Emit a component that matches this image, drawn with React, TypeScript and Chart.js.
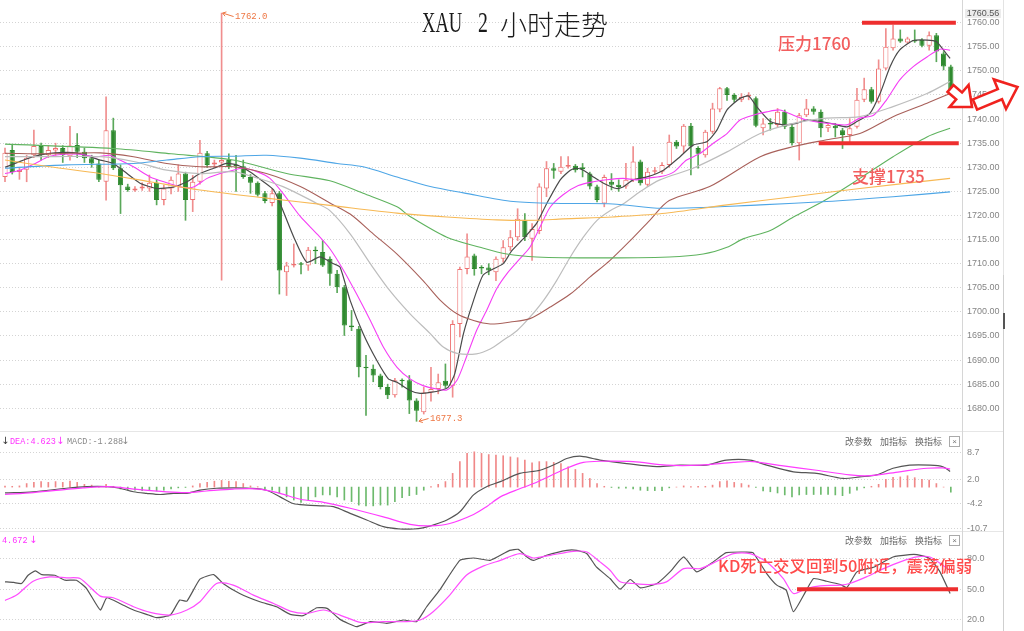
import React, { useEffect, useRef } from 'react';
import { Chart, registerables } from 'chart.js';

Chart.register(...registerables);

// ---------------- data ----------------
const opens = [
  1728, 1733.6, 1729, 1729.5, 1732.5, 1734.4, 1732.5, 1733.5, 1734, 1732.3,
  1734.6, 1733.2, 1731.9, 1730.8, 1727, 1737.7, 1729.8, 1726, 1725.2, 1725.6,
  1725.6, 1726.8, 1723.2, 1725.6, 1726, 1728.7, 1723.2, 1727, 1732.9, 1730.6,
  1731, 1731.5, 1730.5, 1730.2, 1728, 1726.8, 1724.6, 1722.6, 1724.6, 1708.2,
  1709.6, 1710, 1709.6, 1712.9, 1712.4, 1711, 1707.9, 1705.1, 1697.2, 1696.5,
  1688.6, 1688.2, 1686.8, 1684.4, 1682.7, 1685.8, 1685.8, 1681.6, 1679.2, 1683.3,
  1684, 1685.7, 1684.7, 1697.5, 1708.9, 1711.7, 1709.2, 1709.2, 1708.2, 1711,
  1713.4, 1715.5, 1719.1, 1715.2, 1716.8, 1725.6, 1729.8, 1729.1, 1730.1, 1730.3,
  1730, 1728.7, 1726, 1722.5, 1727, 1726.4, 1726, 1727.4, 1731.2, 1726.4,
  1729.1, 1729.1, 1730.5, 1735.3, 1734.3, 1738.6, 1734, 1732.5, 1737.4, 1742,
  1746.4, 1745, 1744, 1744.7, 1744.3, 1738.1, 1739.1, 1738.8, 1741.5, 1738.4,
  1735, 1740.8, 1742.2, 1741.5, 1738.1, 1738.6, 1737.7, 1736.7, 1738.4, 1744,
  1746.2, 1743.6, 1750.5, 1754.7, 1756.7, 1755.9, 1756.4, 1756.4, 1755.2, 1757.4,
  1753.6, 1750.9,
];
const closes = [
  1733, 1729, 1729.5, 1732, 1734.4, 1732.5, 1733.6, 1734, 1732.5, 1734.5,
  1733.2, 1731.9, 1730.8, 1727.4, 1737.7, 1729.8, 1726.3, 1725.3, 1725.6, 1726,
  1726.8, 1723.2, 1725.6, 1727.4, 1728.7, 1723.2, 1727, 1733, 1730.5, 1731,
  1731.5, 1730, 1730.2, 1728, 1726.8, 1724.3, 1723, 1724.6, 1708.6, 1709.6,
  1710, 1709.8, 1712.9, 1712.6, 1709.6, 1707.9, 1705.1, 1697.2, 1696.8, 1688.5,
  1688.3, 1686.8, 1684.4, 1682.7, 1685.8, 1685.6, 1681.6, 1679.5, 1683.3, 1684,
  1685.4, 1684.7, 1697.5, 1708.9, 1711.5, 1708.9, 1709, 1708.6, 1711, 1713.4,
  1715.5, 1719.3, 1715.5, 1717.2, 1726, 1729.8, 1729.3, 1730.1, 1730.5, 1729.4,
  1729.6, 1726, 1723.2, 1728, 1726.4, 1725.9, 1727.4, 1731.2, 1726.7, 1729.1,
  1729.4, 1730.5, 1735.3, 1734.3, 1738.6, 1734.3, 1732.8, 1737.4, 1742.2, 1746.4,
  1745, 1744, 1744.6, 1744.9, 1738.6, 1739.1, 1738.9, 1741.5, 1738.4, 1735,
  1740.8, 1742.2, 1741.5, 1738.1, 1738.8, 1738.1, 1736.7, 1738.1, 1744, 1746.2,
  1743.6, 1750.5, 1755, 1756.7, 1756.1, 1756.7, 1756.1, 1755.2, 1757.4, 1754,
  1750.9, 1746,
];
const highs = [
  1734, 1734.6, 1730, 1732.5, 1737.7, 1735, 1734.5, 1735, 1734.5, 1738.5,
  1737, 1734, 1732.5, 1731.5, 1744.6, 1740.2, 1730.5, 1726.5, 1726, 1726.8,
  1728.4, 1727.4, 1726.3, 1728, 1730.5, 1729, 1728.3, 1735.6, 1733.3, 1731.5,
  1762, 1732.8, 1732.5, 1731.5, 1728.5, 1727, 1725, 1725.5, 1725, 1710.3,
  1714.1, 1710.3, 1713.4, 1713.5, 1714.8, 1711.4, 1708.6, 1705.5, 1700.3, 1697,
  1691, 1689, 1687.1, 1685, 1686.2, 1686.1, 1686.8, 1682, 1684.4, 1688.5,
  1687.1, 1689.2, 1698.2, 1709.3, 1716.2, 1712, 1709.6, 1710, 1711.4, 1714.8,
  1716.9, 1721.4, 1720.4, 1718.3, 1726.6, 1731.2, 1730.8, 1732.2, 1732.2, 1730.6,
  1730.8, 1729, 1726.3, 1728.4, 1728.7, 1727.4, 1730.8, 1734.3, 1731.5, 1729.8,
  1730, 1731, 1736.7, 1735.6, 1738.9, 1739.1, 1734.3, 1737.7, 1743.3, 1746.6,
  1746.6, 1745.3, 1745.3, 1745.5, 1744.6, 1740.1, 1740.1, 1742.2, 1741.9, 1738.8,
  1741.2, 1744.1, 1742.6, 1741.9, 1739.1, 1739.1, 1738.1, 1740.1, 1746.4, 1748.5,
  1746.6, 1752.3, 1758.8, 1759.5, 1758.5, 1757, 1758.5, 1756.7, 1758.1, 1757.8,
  1754, 1751.2,
];
const lows = [
  1727, 1728.6, 1727.5, 1727, 1732, 1731.5, 1732, 1732.5, 1731, 1731.5,
  1732, 1731, 1730, 1727, 1723.2, 1729.5, 1720.4, 1725, 1725, 1725.2,
  1725, 1722.2, 1722.2, 1724.5, 1725, 1719, 1720.8, 1726.5, 1730, 1730,
  1706.6, 1729.7, 1725, 1727.7, 1724.6, 1724, 1722.6, 1722, 1703.7, 1703.4,
  1709.3, 1707.9, 1708.6, 1710, 1709.4, 1705.5, 1704, 1695.1, 1696.1, 1686.5,
  1678.5, 1685.5, 1684, 1682, 1682.3, 1684.4, 1678.9, 1677.3, 1678.8, 1681.5,
  1683, 1684.3, 1682.3, 1694.8, 1707.9, 1707.6, 1707.9, 1707.7, 1706.5, 1710.3,
  1712.7, 1714.8, 1714.8, 1710.7, 1716.2, 1723.9, 1727.7, 1728.7, 1729.8, 1729,
  1728, 1725.5, 1722.8, 1721.8, 1725.3, 1725, 1725.6, 1727, 1726.3, 1726,
  1728.7, 1728.7, 1730, 1733.9, 1733, 1728.4, 1729.8, 1732.1, 1737, 1741.5,
  1743.9, 1743.5, 1743.6, 1744, 1738.4, 1736.7, 1737.7, 1738.4, 1738, 1734.6,
  1731.5, 1740.5, 1741, 1736.3, 1737.4, 1736.3, 1733.9, 1735, 1738.1, 1743.6,
  1743.3, 1743.3, 1750.2, 1754.3, 1755.9, 1755.7, 1755.9, 1755, 1754.3, 1751.9,
  1750.2, 1745.3,
];

// moving-average lines, [candle position, price]
const maBlack = [
  [0, 1730], [3.9, 1732.2], [6.2, 1732.9], [9.9, 1733], [13.2, 1731.5], [15, 1730.8], [16.9, 1728.7],
  [18.7, 1726.7], [21, 1725.6], [23.3, 1725.9], [25.2, 1727], [27, 1728.7], [28.9, 1729.8], [30.7, 1730.8],
  [32.1, 1730.5], [33.9, 1729.1], [35.8, 1727], [37.2, 1725.3], [38.1, 1722.5], [40, 1715.5], [41.8, 1710.3],
  [43.6, 1711.4], [45.5, 1710], [46.4, 1709.3], [47.8, 1702.4], [49.6, 1695.5], [51.5, 1689.9], [53.1, 1686.1],
  [54.3, 1685.4], [56.1, 1683.7], [57.5, 1683.1], [58.9, 1683.3], [60.3, 1683.7], [61.4, 1684.4], [62.3, 1687.2],
  [63.5, 1695.5], [64.9, 1702.4], [66.2, 1707.6], [67.6, 1708.9], [69, 1710], [70.2, 1712.7], [71.8, 1715.2],
  [73.6, 1718.3], [75, 1722.4], [76.9, 1727.4], [78.3, 1729.4], [79.2, 1729.8], [80.1, 1729.4], [81.5, 1728],
  [82.9, 1726.7], [84.7, 1725.6], [85.6, 1725.9], [87, 1727.4], [88.9, 1728], [91.2, 1729.4], [93.5, 1732.2],
  [95.3, 1734.6], [97.2, 1735.3], [98.6, 1737.7], [100, 1741.9], [101.8, 1744.3], [103, 1744.8], [104.1, 1742.6],
  [106, 1739.5], [107.8, 1738.8], [109.6, 1739.1], [111, 1739.8], [112.9, 1739.5], [114.7, 1739], [116.6, 1738.4],
  [118, 1739.5], [119.8, 1741.2], [121.2, 1745.3], [122.6, 1750.9], [123.9, 1754.3], [125.8, 1756.3],
  [127.7, 1756.4], [129, 1756.1], [130, 1754.3], [130.9, 1752.6],
];
const maMagenta = [
  [0, 1728.7], [2.1, 1729.4], [4.2, 1730.8], [6, 1732.2], [8.1, 1732.7], [10.4, 1732.7], [12.7, 1732.2],
  [14.5, 1732.5], [15.9, 1731.5], [17.8, 1730.1], [20.1, 1728], [22.4, 1726.8], [24.7, 1725.8], [26.1, 1725.9],
  [28, 1727.7], [29.8, 1728.7], [31.6, 1729.4], [33, 1729.8], [34.9, 1729.1], [36.7, 1727.7], [38.5, 1724.6],
  [40.9, 1719.8], [43.2, 1716.2], [45, 1713.1], [46.9, 1708.6], [48.7, 1703.7], [50.6, 1698.2], [52.4, 1692.7],
  [54.3, 1688.5], [56.1, 1686.1], [57.9, 1684.7], [59.8, 1684], [61.2, 1683.8], [62.6, 1685.8], [63.9, 1690.6],
  [65.3, 1696.1], [66.7, 1700.3], [68.1, 1704.8], [69.5, 1707.9], [71.3, 1711], [72.7, 1713.4], [74.1, 1717.6],
  [75.5, 1721.7], [77.3, 1724.3], [79.4, 1726.2], [81.5, 1727], [83.3, 1727.4], [85.6, 1727.7], [87.5, 1727.4],
  [89.3, 1727.8], [91.2, 1728.2], [92.6, 1729], [94.4, 1731.5], [96.3, 1732.9], [98.1, 1735], [100, 1737],
  [101.8, 1739.8], [103.6, 1740.8], [105.5, 1741.5], [107.3, 1741.9], [109.2, 1740.8], [111, 1739.8],
  [112.9, 1739.3], [114.7, 1739], [116.6, 1738.8], [118.4, 1740.2], [120.3, 1740.8], [122.1, 1744],
  [123.9, 1748.1], [125.8, 1750.9], [127.7, 1752.9], [129.5, 1754.5], [130.9, 1754.3],
];
const maGray = [
  [0, 1732.2], [6.2, 1732.2], [13.2, 1732.2], [17.8, 1731.2], [22.4, 1729.4], [27, 1728.7], [31.6, 1729.1],
  [34.4, 1728], [38.5, 1726], [43.2, 1722.5], [45, 1721], [47.8, 1716.2], [50.6, 1710], [53.3, 1704.4],
  [56.1, 1699.6], [58.9, 1695.5], [60.7, 1692.7], [62.6, 1691.4], [65.3, 1691.3], [67.2, 1692.3], [69, 1694.1],
  [70.9, 1696.1], [72.7, 1698.9], [74.6, 1702.4], [76.4, 1706.5], [78.3, 1711.4], [80.1, 1715.5], [82, 1719],
  [83.8, 1721], [85.6, 1722.4], [88, 1725], [90.7, 1727.4], [95.3, 1729.8], [100, 1733.2], [104.6, 1737],
  [109.2, 1739.1], [113.8, 1740.2], [118.4, 1740.5], [123, 1742.6], [127.7, 1745.3], [130.9, 1747.8],
];
const maBrown = [
  [0, 1732.9], [6.2, 1732.8], [13.2, 1733], [17.8, 1732.2], [22.4, 1730.8], [27, 1730.1], [31.6, 1730.1],
  [36.2, 1728.7], [40.9, 1726], [45, 1722.6], [47.8, 1720.3], [51, 1716.2], [54.3, 1712], [57.9, 1706.5],
  [60.3, 1702.4], [62.6, 1699.6], [64.9, 1698.2], [67.2, 1697.5], [70, 1697.9], [72.7, 1698.6], [75.5, 1701],
  [78.3, 1703.7], [81, 1707.2], [83.8, 1710.7], [86.6, 1714.8], [89.3, 1719], [92, 1723.1], [97.6, 1726],
  [104.6, 1732.2], [109.2, 1734.3], [113.8, 1735.7], [118.4, 1737], [123, 1740.5], [127.7, 1743.3], [130.9, 1745.3],
];
const maGreen = [
  [0, 1734.8], [15, 1733.9], [23, 1732.8], [31.6, 1731.5], [39, 1728.7], [45, 1727.2], [49.6, 1724.6],
  [54.3, 1721.8], [56, 1719.9], [61.2, 1715.5], [65.8, 1713.4], [69.5, 1712], [73.6, 1711.4], [82, 1711.2],
  [92, 1711.4], [96.7, 1712], [100, 1713.4], [102.3, 1715.2], [106, 1716.9], [109.2, 1719.7], [113.5, 1723.1],
  [118.4, 1727.7], [123, 1732.2], [127.7, 1736.3], [130.9, 1738.1],
];
const maBlue = [
  [0, 1729.8], [8.5, 1730.5], [17.8, 1730.8], [22.4, 1731.5], [27, 1732.2], [31.6, 1732.3], [36.2, 1732.5],
  [40.9, 1731.9], [46, 1730.8], [49.6, 1730.1], [54.3, 1728], [58.9, 1726], [63.5, 1724.7], [70.4, 1722.9],
  [77.3, 1722.5], [84.2, 1722.4], [91, 1721.5], [104.6, 1722.2], [113.8, 1722.9], [123, 1723.9], [130.9, 1724.9],
];
const maOrange = [
  [0, 1731.5], [6.2, 1730.1], [13.2, 1728.7], [20.1, 1727], [27, 1725.3], [36.2, 1723.6], [45, 1722.1],
  [54.3, 1720.5], [61.2, 1719.7], [68.1, 1719.1], [73.6, 1719], [77.3, 1719.3], [84.2, 1719.7], [91, 1720.4],
  [100, 1722.2], [109.2, 1723.9], [118.4, 1725.6], [130.9, 1727.7],
];

const macdHist = [
  0.26, 0.2, 0.3, 0.9, 1.2, 1.4, 1.2, 1.4, 1.2, 1.5,
  1.2, 0.7, 0.5, 0.2, 0.7, 0.2, -0.5, -0.8, -0.8, -0.9,
  -0.9, -1.0, -0.8, -0.5, -0.2, -0.1, 0.3, 0.9, 1.2, 1.5,
  1.7, 1.5, 1.4, 0.9, 0.3, 0.1, -0.4, -0.8, -1.6, -2.5,
  -3.3, -3.9, -3.3, -2.5, -2.0, -2.0, -2.5, -3.3, -3.7, -4.6,
  -4.8, -4.8, -4.6, -4.6, -3.7, -2.7, -2.2, -1.9, -0.8, 0.1,
  0.7, 1.4, 3.5, 6.5, 8.6, 9.0, 8.6, 8.3, 8.2, 8.0,
  7.7, 7.5, 6.9, 6.2, 6.5, 6.5, 6.3, 6.0, 5.2, 4.5,
  3.5, 2.2, 0.9, 0.2, -0.1, -0.3, -0.3, -0.5, -0.8, -0.9,
  -0.9, -0.9, -0.2, 0.0, 0.3, 0.1, 0.2, 0.2, 0.5, 1.4,
  1.6, 1.2, 0.9, 0.5, -0.1, -1.0, -1.2, -1.5, -2.0, -2.5,
  -2.0, -1.9, -1.9, -1.9, -1.9, -2.0, -2.2, -1.6, -0.8, -0.2,
  0.2, 0.7, 2.0, 2.5, 2.6, 2.9, 2.4, 2.0, 1.8, 0.9,
  0.0, -1.3,
];
const macdDif = [
  [0, -1.5], [3.9, -1.2], [8.5, -0.3], [11.3, 0.1], [14.1, 0.1], [15.9, -0.3], [17.8, -1.2], [19.6, -1.6],
  [21.5, -1.9], [23.3, -1.6], [25.2, -1.6], [27, -0.8], [29.3, -0.3], [31.6, -0.2], [33.9, -0.3], [36.2, -0.8],
  [38.1, -2.5], [39.9, -4.2], [41.8, -4.6], [44.1, -4.8], [45.5, -5.0], [47.8, -6.7], [50.1, -8.4], [52.4, -10.1],
  [54.7, -10.7], [56.6, -10.7], [57.9, -10.4], [59.3, -9.7], [61.2, -8.4], [63, -6.3], [64.9, -2.0], [66.7, 0.1],
  [68.6, 1.4], [71.3, 3.5], [74.1, 4.3], [76.4, 6.0], [77.8, 7.3], [79.6, 7.9], [81.4, 7.3], [82.4, 6.9],
  [86.1, 6.0], [90.3, 5.2], [93.5, 5.6], [97.1, 5.6], [99.9, 6.9], [103.2, 6.9], [105.5, 5.6], [109.2, 3.9],
  [112.4, 3.5], [116.1, 2.2], [118.4, 2.6], [120.7, 3.1], [123, 4.8], [125.3, 5.6], [128.1, 5.6], [129.9, 5.2],
  [130.9, 4.0],
];
const macdDea = [
  [0, -1.9], [3.9, -1.4], [8.5, -0.6], [10.8, -0.2], [14.5, 0.1], [17.8, -0.5], [22.4, -1.2], [25.2, -1.4],
  [27.9, -1.0], [31.6, -0.5], [35.3, -0.5], [38.1, -1.6], [40.9, -3.1], [44.1, -3.9], [47.8, -5.4], [52.4, -7.6],
  [56.1, -9.5], [58.9, -9.9], [61.6, -9.3], [64.9, -7.0], [66.7, -5.0], [68.6, -2.5], [71.2, -0.5], [73.2, 0.9],
  [77.8, 4.8], [80.1, 6.3], [82.4, 6.6], [87, 6.5], [91.6, 5.6], [96.3, 5.6], [100.9, 6.3], [103.6, 6.5],
  [107.8, 5.4], [112.4, 4.3], [117, 3.1], [119.8, 2.9], [123.9, 3.9], [127.7, 4.8], [129.9, 4.9], [130.9, 4.6],
];
const kdK = [
  [0, 57.1], [1.2, 56.5], [2.3, 55.5], [3.2, 63.5], [4.2, 67.7], [5.1, 64.2], [6.9, 63.5], [8.3, 58.7],
  [9.9, 58.7], [11.3, 50.6], [13.2, 29.7], [14.1, 41.6], [15.9, 36.1], [17.8, 29.7], [19.6, 25.5], [21, 22.3],
  [22.9, 24.8], [24.2, 39.4], [25.2, 38.4], [27, 59.7], [28.9, 64.2], [30.2, 55.5], [32.5, 45.8], [35.3, 37.7],
  [37.6, 32.9], [39.5, 25.5], [41.3, 24.2], [43.2, 31.9], [44.6, 31.3], [46.4, 20.6], [48.7, 13.5], [50.6, 18.4],
  [52.9, 16.8], [55.2, 20], [57, 18.4], [58.4, 32.9], [60.2, 49], [63, 78], [64.9, 80.3], [67.2, 78],
  [69.9, 87.7], [71.1, 88.7], [72.3, 81.3], [73.2, 78], [75, 82.9], [77.8, 87.7], [79.2, 87.7], [80.6, 84.5],
  [81.9, 71.6], [83.8, 60.3], [85.2, 50], [86.6, 59.4], [88, 51.3], [90.3, 55.5], [92.1, 66.8], [94, 81.3],
  [95.8, 66.8], [98.1, 76.5], [99.9, 85.5], [102.7, 86.1], [103.6, 85.5], [105.5, 65.2], [106.9, 53.9],
  [108.2, 49], [109.2, 28.1], [111, 49], [112, 60.3], [113.8, 57.7], [115.7, 54.5], [116.6, 51.6], [118, 66.8],
  [120.4, 71.6], [123, 81.3], [125.3, 83.5], [126.3, 83.5], [128.1, 79.7], [129.5, 66.8], [130.9, 45.8],
];
const kdD = [
  [0, 39], [1.6, 44.2], [3.9, 57.7], [6.2, 61.9], [8.5, 61], [10.4, 60.3], [13.2, 43.2], [15, 41.6],
  [17.8, 32.9], [20.1, 27.4], [22.9, 24.8], [25.2, 29.7], [27, 37.7], [29.3, 55.5], [31.6, 53.9], [34.4, 44.2],
  [37.2, 36.1], [39.5, 28.7], [41.8, 26.5], [44.1, 29.7], [46.4, 24.8], [49.2, 17.7], [52.4, 18.4], [55.6, 18.4],
  [57.5, 20], [59.3, 28.1], [61.6, 44.2], [63.9, 63.5], [66.3, 72.6], [68.6, 78], [71.3, 84.5], [73.2, 80.3],
  [75.5, 82.9], [78.7, 86.8], [80.6, 86.1], [82.4, 76.5], [83.8, 68.4], [85.2, 57.1], [87, 55.5], [89.3, 54.5],
  [91.6, 57.1], [94, 70], [96.3, 70], [98.6, 77.1], [100.9, 84.5], [103.2, 84.5], [105.5, 76.5], [107.8, 60.3],
  [109.2, 45.8], [111, 50.6], [112.9, 53.2], [115.7, 53.9], [117, 55.5], [119.3, 61.9], [121.7, 70], [124, 76.5],
  [126.3, 81.3], [128.1, 81.3], [129.9, 73.2], [130.9, 68],
];

const priceTicks = [1760, 1755, 1750, 1745, 1740, 1735, 1730, 1725, 1720, 1715, 1710, 1705, 1700, 1695, 1690, 1685, 1680];
const macdTicks = [8.7, 2.0, -4.2, -10.7];
const kdTicks = [80, 50, 20];

const resistance = { value: 1760, from: 118.7, to: 131.7 };
const support = { value: 1735, from: 112.7, to: 132.1 };
const kdLevel = { value: 50, from: 109.7, to: 132 };

// ---------------- helpers ----------------
const MONO = '"Liberation Mono", "DejaVu Sans Mono", monospace';
const SERIF = '"Liberation Serif", "DejaVu Serif", serif';
const CJK = '"Noto Sans CJK SC", "Noto Sans", sans-serif';
const ARROWF = '"DejaVu Sans", "Noto Sans", sans-serif';
const AXIS_W = 62;
const X_MIN = -0.6925;
const X_MAX = 132.548;
const RED = '#ee7272';
const RED_WICK = '#f08e8e';
const GREEN = '#2f8a2f';
const GREEN_WICK = '#5aa85a';
const LEVEL_RED = '#ee2e2e';

const idx = opens.map((_, i) => i);
const isUp = (i: number) => closes[i] >= opens[i];
const toPts = (a: number[][]) => a.map(([x, y]) => ({ x, y }));

const lineDs = (a: number[][], color: string, width = 1.1, tension = 0.3) => ({
  type: 'line', data: toPts(a), borderColor: color, borderWidth: width, pointRadius: 0,
  tension, fill: false, order: 0,
});

const xAxis = () => ({ type: 'linear', min: X_MIN, max: X_MAX, display: false, offset: false });

const yAxis = (min: number, max: number, ticks: number[], digits: number) => ({
  position: 'right', min, max,
  afterBuildTicks: (s: any) => { s.ticks = ticks.map((v) => ({ value: v })); },
  afterFit: (s: any) => { s.width = AXIS_W; s.paddingTop = 0; s.paddingBottom = 0; },
  grid: { color: '#d4d4d4', lineWidth: 1, drawTicks: false },
  border: { display: true, color: '#d6d6d6', width: 1, dash: [1, 2] },
  ticks: {
    padding: 5, color: '#858585', font: { family: '"Liberation Sans", sans-serif', size: 9 },
    callback: (v: any) => Number(v).toFixed(digits),
  },
});

const baseOpts = {
  responsive: false, animation: false, events: [],
  layout: { padding: 0 },
  plugins: { legend: { display: false }, tooltip: { enabled: false } },
};

function blockArrow(ctx: any, x0: number, y0: number, x1: number, y1: number, sw: number, hw: number, hl: number) {
  const L = Math.hypot(x1 - x0, y1 - y0);
  const ux = (x1 - x0) / L, uy = (y1 - y0) / L, nx = -uy, ny = ux;
  const bx = x1 - ux * hl, by = y1 - uy * hl;
  const p = [
    [x0 + nx * sw, y0 + ny * sw], [bx + nx * sw, by + ny * sw], [bx + nx * hw, by + ny * hw], [x1, y1],
    [bx - nx * hw, by - ny * hw], [bx - nx * sw, by - ny * sw], [x0 - nx * sw, y0 - ny * sw],
  ];
  ctx.beginPath();
  p.forEach(([px, py], k) => (k ? ctx.lineTo(px, py) : ctx.moveTo(px, py)));
  ctx.closePath();
  ctx.fillStyle = '#fff';
  ctx.fill();
  ctx.strokeStyle = '#f0221e';
  ctx.lineWidth = 2.6;
  ctx.lineJoin = 'miter';
  ctx.stroke();
}

function pointerLabel(ctx: any, tx: number, ty: number, dx: number, dy: number, text: string) {
  const ex = tx + dx, ey = ty + dy;
  ctx.strokeStyle = '#ee7744';
  ctx.lineWidth = 1;
  ctx.beginPath();
  ctx.moveTo(ex, ey); ctx.lineTo(tx, ty);
  const a = Math.atan2(ey - ty, ex - tx);
  ctx.moveTo(tx + 4 * Math.cos(a - 0.6), ty + 4 * Math.sin(a - 0.6));
  ctx.lineTo(tx, ty);
  ctx.lineTo(tx + 4 * Math.cos(a + 0.6), ty + 4 * Math.sin(a + 0.6));
  ctx.stroke();
  ctx.fillStyle = '#ee7744';
  ctx.font = `9px ${MONO}`;
  ctx.textBaseline = 'middle';
  ctx.textAlign = 'left';
  ctx.fillText(text, ex + 1.5, ey + 0.5);
}

const levelLine = (chart: any, lv: { value: number; from: number; to: number }) => {
  const { ctx, scales: { x, y } } = chart;
  const py = y.getPixelForValue(lv.value);
  ctx.save();
  ctx.strokeStyle = LEVEL_RED;
  ctx.lineWidth = 4;
  ctx.beginPath();
  ctx.moveTo(x.getPixelForValue(lv.from), py);
  ctx.lineTo(x.getPixelForValue(lv.to), py);
  ctx.stroke();
  ctx.restore();
};

const pricePlugin = {
  id: 'priceAnno',
  afterDatasetsDraw(chart: any) {
    levelLine(chart, resistance);
    levelLine(chart, support);
    const { ctx, scales: { x, y } } = chart;
    let hi = 0, lo = 0;
    idx.forEach((i) => { if (highs[i] > highs[hi]) hi = i; if (lows[i] < lows[lo]) lo = i; });
    ctx.save();
    pointerLabel(ctx, x.getPixelForValue(hi) + 1, y.getPixelForValue(highs[hi]), 11, 3.5, highs[hi].toFixed(1));
    pointerLabel(ctx, x.getPixelForValue(lo) + 2.5, y.getPixelForValue(lows[lo]), 9.5, -2.8, lows[lo].toFixed(1));
    ctx.restore();
  },
  afterDraw(chart: any) {
    const { ctx } = chart;
    ctx.save();
    blockArrow(ctx, 950.5, 88.5, 972, 107, 4.5, 14.5, 17);
    blockArrow(ctx, 975, 104.5, 1017.5, 87, 5.5, 16, 19);
    ctx.restore();
  },
};

const kdPlugin = {
  id: 'kdAnno',
  afterDatasetsDraw(chart: any) { levelLine(chart, kdLevel); },
};

function priceConfig(): any {
  return {
    type: 'bar',
    data: {
      datasets: [
        lineDs(maOrange, '#f7b955', 1.1, 0.3),
        lineDs(maBlue, '#4ea6e6', 1.1, 0.3),
        lineDs(maGreen, '#5fb35f', 1.1, 0.3),
        lineDs(maBrown, '#a8605a', 1.1, 0.3),
        lineDs(maGray, '#bdbdbd', 1.2, 0.3),
        lineDs(maMagenta, '#f53ef5', 1.1, 0.25),
        lineDs(maBlack, '#4a4a4a', 1.2, 0.2),
        {
          type: 'bar', order: 1, grouped: false,
          data: idx.map((i) => ({ x: i, y: [opens[i], closes[i]] })),
          backgroundColor: idx.map((i) => (isUp(i) ? '#ffffff' : GREEN)),
          borderColor: idx.map((i) => (isUp(i) ? RED : GREEN)),
          borderWidth: 1, borderSkipped: false, categoryPercentage: 1, barPercentage: 0.72, minBarLength: 1.5,
        },
        {
          type: 'bar', order: 2, grouped: false,
          data: idx.map((i) => ({ x: i, y: [lows[i], highs[i]] })),
          backgroundColor: idx.map((i) => (isUp(i) ? RED_WICK : GREEN_WICK)),
          borderWidth: 0, maxBarThickness: 1, categoryPercentage: 1, barPercentage: 1,
        },
      ],
    },
    options: { ...baseOpts, scales: { x: xAxis(), y: yAxis(1675.08, 1764.71, priceTicks, 2) } },
    plugins: [pricePlugin],
  };
}

function macdConfig(): any {
  return {
    type: 'bar',
    data: {
      datasets: [
        {
          type: 'bar', order: 1, grouped: false,
          data: idx.map((i) => ({ x: i, y: macdHist[i] })),
          backgroundColor: idx.map((i) => (macdHist[i] >= 0 ? '#f08888' : '#6dba6d')),
          borderWidth: 0, maxBarThickness: 1, categoryPercentage: 1, barPercentage: 1,
        },
        lineDs(macdDea, '#ff3cff', 1.2, 0.3),
        lineDs(macdDif, '#555555', 1.2, 0.3),
      ],
    },
    options: { ...baseOpts, scales: { x: xAxis(), y: yAxis(-11.466, 14.06, macdTicks, 1) } },
  };
}

function kdConfig(): any {
  return {
    type: 'line',
    data: {
      datasets: [
        lineDs(kdD, '#ff4dff', 1.2, 0.25),
        lineDs(kdK, '#555555', 1.2, 0.15),
      ],
    },
    options: { ...baseOpts, scales: { x: xAxis(), y: yAxis(9.3, 105.58, kdTicks, 1) } },
    plugins: [kdPlugin],
  };
}

const Txt = ({ x, y, size, color, family = CJK, weight = 400, children, style = {} }: any) => (
  <div
    style={{
      position: 'absolute', left: x, top: y, fontSize: size, lineHeight: `${size}px`, color,
      fontFamily: family, fontWeight: weight, whiteSpace: 'pre', ...style,
    }}
  >
    {children}
  </div>
);

const PanelTools = ({ y }: { y: number }) => (
  <>
    <Txt x={845} y={y} size={9} color="#666">改参数</Txt>
    <Txt x={880} y={y} size={9} color="#666">加指标</Txt>
    <Txt x={915} y={y} size={9} color="#666">换指标</Txt>
    <div
      style={{
        position: 'absolute', left: 949, top: y - 1, width: 9, height: 9, border: '1px solid #aaa',
        fontSize: 8, lineHeight: '9px', textAlign: 'center', color: '#777', fontFamily: '"Liberation Sans", sans-serif',
      }}
    >
      ×
    </div>
  </>
);

export default function App() {
  const priceRef = useRef<HTMLCanvasElement>(null);
  const macdRef = useRef<HTMLCanvasElement>(null);
  const kdRef = useRef<HTMLCanvasElement>(null);

  useEffect(() => {
    document.body.style.margin = '0';
    const charts = [
      new Chart(priceRef.current as HTMLCanvasElement, priceConfig()),
      new Chart(macdRef.current as HTMLCanvasElement, macdConfig()),
      new Chart(kdRef.current as HTMLCanvasElement, kdConfig()),
    ];
    return () => charts.forEach((c) => c.destroy());
  }, []);

  return (
    <div style={{ position: 'fixed', left: 0, top: 0, width: 1024, height: 631, background: '#fff', overflow: 'hidden' }}>
      {/* frame lines */}
      <div style={{ position: 'absolute', left: 1003, top: 0, width: 1, height: 631, background: '#e3e3e3' }} />
      <div style={{ position: 'absolute', left: 1003, top: 275, width: 1, height: 356, background: '#cfcfcf' }} />
      <div style={{ position: 'absolute', left: 1003, top: 313, width: 2, height: 16, background: '#555' }} />
      <div style={{ position: 'absolute', left: 0, top: 431, width: 1003, height: 1, background: '#e6e6e6' }} />
      <div style={{ position: 'absolute', left: 0, top: 531, width: 1003, height: 1, background: '#e6e6e6' }} />

      <canvas ref={priceRef} width={1024} height={432} style={{ position: 'absolute', left: 0, top: 0, width: 1024, height: 432 }} />
      <canvas ref={macdRef} width={1024} height={100} style={{ position: 'absolute', left: 0, top: 432, width: 1024, height: 100 }} />
      <canvas ref={kdRef} width={1024} height={99} style={{ position: 'absolute', left: 0, top: 532, width: 1024, height: 99 }} />

      {/* title */}
      <Txt x={422} y={7} size={30} color="#1a1a1a" family={SERIF} style={{ transform: 'scaleX(0.62)', transformOrigin: 'left top' }}>XAU</Txt>
      <Txt x={478} y={7} size={30} color="#1a1a1a" family={SERIF} style={{ transform: 'scaleX(0.66)', transformOrigin: 'left top' }}>2</Txt>
      <Txt x={500} y={10} size={27} color="#1a1a1a" weight={300}>小时走势</Txt>

      {/* top price tag */}
      <div
        style={{
          position: 'absolute', left: 965, top: 9, width: 36, height: 9, background: '#ececec', color: '#555',
          fontSize: 9, lineHeight: '9px', textAlign: 'center', fontFamily: '"Liberation Sans", sans-serif',
        }}
      >
        1760.56
      </div>

      {/* annotations */}
      <Txt x={778} y={34} size={17} color="#f25e5e" weight={500}>压力1760</Txt>
      <Txt x={852} y={167} size={17} color="#f25e5e" weight={500}>支撑1735</Txt>
      <Txt x={718} y={556.5} size={16.4} color="#ff4a4a" weight={500}>KD死亡交叉回到50附近，震荡偏弱</Txt>

      {/* MACD header */}
      <Txt x={1} y={436} size={10} color="#333" family={ARROWF}>↓</Txt>
      <Txt x={10} y={437.5} size={8.5} color="#ff33ff" family={MONO}>DEA:4.623</Txt>
      <Txt x={56} y={436} size={10} color="#ff33ff" family={ARROWF}>↓</Txt>
      <Txt x={67} y={437.5} size={8.5} color="#8a8a8a" family={MONO}>MACD:-1.288</Txt>
      <Txt x={121} y={436} size={10} color="#8a8a8a" family={ARROWF}>↓</Txt>
      <PanelTools y={437} />

      {/* KD header */}
      <Txt x={2} y={536.5} size={8.5} color="#ff33ff" family={MONO}>4.672</Txt>
      <Txt x={29} y={535} size={10} color="#ff33ff" family={ARROWF}>↓</Txt>
      <PanelTools y={536} />
    </div>
  );
}
